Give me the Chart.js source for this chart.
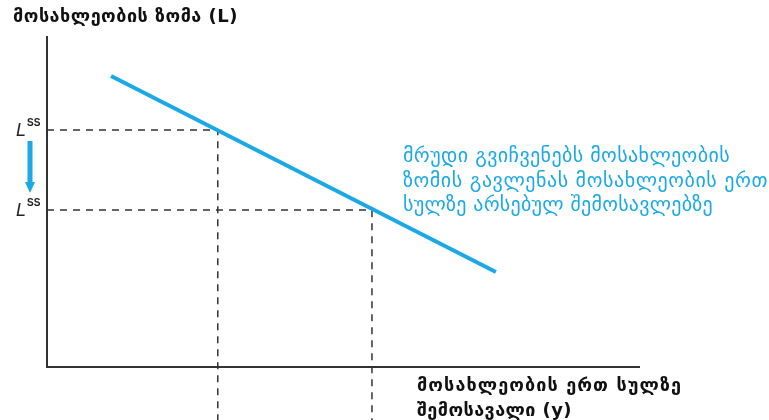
<!DOCTYPE html>
<html>
<head>
<meta charset="utf-8">
<script src="https://cdn.jsdelivr.net/npm/chart.js@4"></script>
<style>
  body { margin: 0; background: #fff; }
  #wrap { width: 769px; height: 420px; }
</style>
</head>
<body>
<div id="wrap"><canvas id="graphe" width="769" height="420"></canvas></div>
<script>
// données du graphe (unités du graphe, axes 0..100)
const courbeX = [10.8, 75.7]
const courbeY = [87.9, 28.7]
// points repères (Lss haut / Lss bas)
const repereX = [28.8, 54.8]
const repereY = [71.6, 47.4]
const basRepere = -16
const axeMax = 100

const titreY = "მოსახლეობის ზომა (L)"
const titreX = ["მოსახლეობის ერთ სულზე", "შემოსავალი (y)"]
const note = ["მრუდი გვიჩვენებს მოსახლეობის", "ზომის გავლენას მოსახლეობის ერთ", "სულზე არსებულ შემოსავლებზე"]

const bleu = "#1ba9e6"
const gris = "#333333"
const fonte = "'DejaVu Sans', sans-serif"

// lignes pointillées : horizontale depuis l'axe puis verticale jusqu'en bas
const pointilles = repereX.map((x, i) => ({
  data: [{x: 0, y: repereY[i]}, {x: x, y: repereY[i]}, {x: x, y: basRepere}],
  borderColor: gris,
  borderWidth: 1.5,
  borderDash: [7, 6],
  pointRadius: 0,
  showLine: true,
  clip: false
}))

// écrit un texte en ajustant l'espacement des lettres pour la largeur voulue
const ecrire = (ctx, texte, x, y, largeur) => {
  ctx.letterSpacing = "0px"
  const w = ctx.measureText(texte).width
  const esp = (largeur - w) / texte.length
  ctx.letterSpacing = esp + "px"
  ctx.fillText(texte, x, y)
  ctx.letterSpacing = "0px"
}

// texte et flèche
const textes = {
  id: "textes",
  afterDraw(chart) {
    const ctx = chart.ctx
    const sy = chart.scales.y
    ctx.save()
    ctx.textBaseline = "alphabetic"
    ctx.fillStyle = "#111"
    ctx.font = "bold 18px " + fonte
    ecrire(ctx, titreY, 13, 22, 225)
    ecrire(ctx, titreX[0], 417, 391, 265)
    ecrire(ctx, titreX[1], 417, 416, 155)

    ctx.fillStyle = bleu
    ctx.font = "20px " + fonte
    const largeurs = [327, 365, 310]
    note.forEach((l, i) => ecrire(ctx, l, 403, 162 + i * 24.5, largeurs[i]))

    // étiquettes L^SS
    ctx.fillStyle = "#222"
    repereY.forEach(v => {
      const py = sy.getPixelForValue(v)
      ctx.font = "italic 18px 'Liberation Sans', sans-serif"
      ctx.fillText("L", 16, py + 6)
      ctx.font = "bold 10px 'Liberation Sans', sans-serif"
      ctx.fillText("SS", 27, py - 4)
    })

    // flèche bleue
    const haut = sy.getPixelForValue(repereY[0]) + 11
    const bas = sy.getPixelForValue(repereY[1]) - 17
    const ax = 30
    ctx.fillStyle = bleu
    ctx.fillRect(ax - 2.5, haut, 5, bas - haut - 10)
    ctx.beginPath()
    ctx.moveTo(ax - 5, bas - 11)
    ctx.lineTo(ax + 5, bas - 11)
    ctx.lineTo(ax, bas)
    ctx.closePath()
    ctx.fill()
    ctx.restore()
  }
}

new Chart(document.getElementById("graphe"), {
  type: "scatter",
  data: {
    datasets: [
      {
        data: courbeX.map((x, i) => ({x: x, y: courbeY[i]})),
        borderColor: bleu,
        borderWidth: 4,
        pointRadius: 0,
        showLine: true
      },
      ...pointilles,
      // axes
      {
        data: [{x: 0, y: axeMax}, {x: 0, y: 0}, {x: axeMax, y: 0}],
        borderColor: gris,
        borderWidth: 2,
        pointRadius: 0,
        showLine: true,
        clip: false
      }
    ]
  },
  options: {
    responsive: false,
    animation: false,
    layout: { padding: { left: 47, right: 129, top: 36, bottom: 53 } },
    scales: {
      x: { display: false, min: 0, max: axeMax },
      y: { display: false, min: 0, max: axeMax }
    },
    plugins: { legend: { display: false }, tooltip: { enabled: false } }
  },
  plugins: [textes]
})
</script>
</body>
</html>
